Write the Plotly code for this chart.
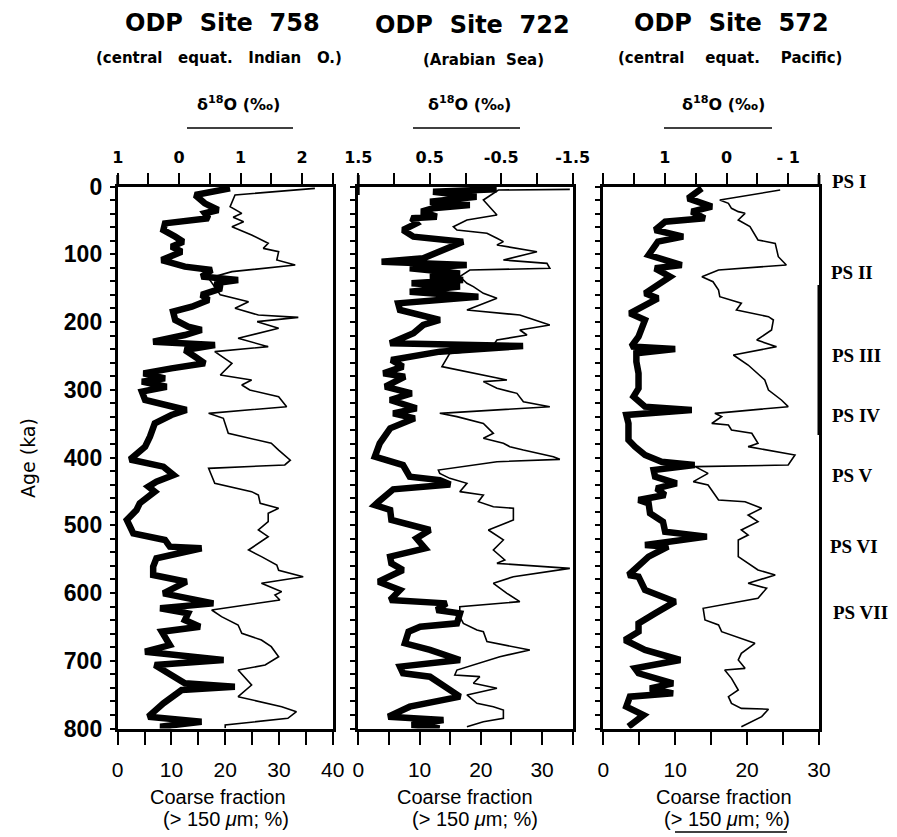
import plotly.graph_objects as go

# The page adds an 8 px body margin, so the figure is 8 px smaller than the window
OFF = 8
W, H = 897 - OFF, 837 - OFF

# ---------------- ODP Site 758 ----------------
age758_cf = [2.7, 12.5, 24.8, 34.7, 39.6, 47, 54.4, 64.2, 74, 81.4, 88.8, 96.2, 108.5, 118.3, 123.2, 133, 138, 143,
             150.3, 160, 167.5, 177.4, 184.7, 197, 206.9, 211.8, 219.2, 229, 234, 241.3, 251.2, 261, 268.4, 275.8,
             283.2, 288, 295.5, 302.8, 315.1, 325, 329.9, 337.3, 349.6, 369.3, 384, 403, 413.5, 425.8, 435.6, 443,
             450.4, 467.6, 477.5, 492.2, 511.9, 521.7, 531.6, 534, 548.8, 561.1, 573.4, 583.3, 600.5, 615.3, 622.6,
             630, 639.9, 649.7, 657.1, 676.8, 686.6, 698.9, 706.3, 733.3, 738.3, 743.2, 762.9, 782.5, 789.9, 797.3,
             799.8]
cf758 = [20.9, 14.4, 16.2, 18.7, 16.2, 16.9, 8.8, 8.5, 10.7, 12.2, 10, 11.9, 8.2, 12.5, 17.5, 15.6, 22.4, 18.1,
         19.3, 15.6, 16.9, 13.8, 10.3, 10.7, 13.1, 15.6, 12.5, 6.6, 18.1, 12.5, 14.4, 16.2, 10, 4.8,
         8.8, 4.5, 9.1, 4.5, 5.1, 10, 12.8, 10, 6.9, 6, 5.1, 2.3, 8.5, 10.4, 7.2, 5.7,
         6.9, 4.1, 3.5, 1.7, 2.9, 8.8, 9.7, 15.6, 7.2, 6.6, 6.6, 12.8, 8.5, 17.8, 7.9,
         13.1, 12.5, 15.3, 8.2, 9.7, 5.1, 19.7, 6.9, 12.5, 21.8, 11.9, 8.5, 5.7, 15.6, 7.9,
         10]
age758_o = [2.7, 12.5, 29.8, 39.6, 45.5, 51.9, 59.3, 71.6, 83.9, 91.3, 96.2, 108.5, 115.9, 125.7, 135.5, 160, 170,
            179.8, 189.7, 193.1, 199.5, 209.3, 224.1, 236.4, 243.8, 261, 278.2, 285.6, 293, 300.4, 310.2, 325,
            334.8, 342.2, 364.3, 379, 389, 404, 411, 416, 438.1, 450.4, 455.4, 467.6, 475, 482.4, 494.7, 507,
            516.8, 536.5, 546.3, 558.6, 566.5, 575.9, 585.7, 598, 602.9, 610.3, 625.1, 634.9, 647.2, 659.5, 669.4,
            679.2, 694, 706.3, 713.7, 735.8, 753, 767.8, 775.2, 785, 794.8, 799.8]
d18o758 = [2.21, 0.91, 0.83, 1.02, 0.88, 1.05, 0.86, 1.18, 1.45, 1.37, 1.62, 1.59, 1.89, 0.86, 0.48, 0.67, 1.13,
           0.91, 1.29, 1.94, 1.27, 1.62, 0.96, 1.45, 0.58, 0.86, 0.67, 1.18, 1.02, 1.15, 1.62, 1.75,
           0.48, 0.72, 0.8, 1.5, 1.62, 1.81, 1.72, 0.48, 0.58, 1.18, 1.29, 1.32, 1.62, 1.45, 1.45, 1.29,
           1.45, 1.13, 1.34, 1.59, 1.62, 2.02, 1.34, 1.67, 1.56, 1.64, 0.53, 0.69, 0.96, 1.02, 1.34,
           1.5, 1.62, 1.4, 0.96, 1.18, 0.96, 1.67, 1.91, 1.77, 0.75, 0.75]

# ---------------- ODP Site 722 ----------------
age722_cf = [4.2, 7.6, 15, 22.4, 27.3, 32.2, 37.1, 44.5, 47, 54.4, 64.2, 74, 81.4, 106, 110.9, 115.9, 120.8, 128.2,
             133.1, 138, 142.9, 147.8, 155.2, 162.6, 172.4, 182.3, 197, 204.4, 216.7, 231.5, 235.4, 243.8, 256.1,
             265.9, 275.8, 280.7, 295.5, 305.3, 315.1, 327.4, 334.8, 342.2, 356.9, 379.1, 398.8, 411.1, 428.3,
             433.3, 440, 447, 465.2, 470.2, 477.5, 492.2, 507, 519.3, 534, 546.3, 556.2, 566.1, 583.3, 595.6,
             610.3, 615.3, 625.1, 630, 644.8, 649.7, 657.1, 674.3, 684.1, 698.9, 708.7, 718.5, 723.5, 733.3, 753,
             767.8, 782.5, 787.4, 794.8, 799.8]
cf722 = [22.6, 12.2, 19.3, 11.7, 18.2, 12.2, 10.3, 12.8, 8.7, 9.5, 7.3, 9, 17.1, 10.6, 3.8, 17.7, 8.4, 16.6,
         11.7, 17.1, 8.7, 16.6, 8.4, 19.6, 6.5, 6.8, 13.3, 10.6, 9, 5.2, 26.9, 13.3, 5.4,
         7.3, 4.1, 7.6, 4.4, 8.7, 5.2, 9.5, 5.7, 9.2, 5.2, 3.5, 2.7, 7.3, 8.4,
         13.3, 15, 5.7, 3.3, 2.7, 5.2, 5.4, 11.7, 9.5, 10.9, 5.2, 5.4, 7.3, 3.3, 6.8,
         5.2, 14.4, 12.8, 16.6, 16.1, 10.1, 8.2, 7.6, 11.7, 16.6, 6.8, 7.3, 11.7, 13.3, 16.6,
         8.4, 4.9, 13.9, 8.7, 13.3]
age722_o = [4.2, 5.2, 19.9, 42.1, 49.4, 59.3, 64.2, 69.1, 76.5, 81.4, 86.3, 96.2, 108.5, 113.4, 120.8, 123.2, 133.1,
            142.9, 147.8, 157.7, 165.1, 182.3, 189.7, 204.4, 211.8, 219.2, 226.6, 233.9, 243.8, 246.3, 265.9,
            285.6, 288, 297.9, 305.3, 317.6, 325, 334.8, 339.7, 349.6, 364.3, 371.7, 379.1, 384, 389, 398.8,
            402.7, 406.2, 418.5, 423.4, 430.8, 438.1, 450.4, 455.4, 465.2, 472.6, 475, 492.2, 507, 521.7, 536.5,
            551.3, 556.2, 563.6, 575.9, 585.7, 600.5, 612.8, 620.2, 634.9, 644.8, 654.6, 657.1, 671.8, 684.1,
            694, 713.7, 721, 723.5, 733.3, 740.7, 750.5, 762.9, 767.8, 772.7, 785, 789.9, 797.3]
d18o722 = [-1.46, -0.46, -0.25, -0.44, -0.02, 0.17, 0.12, -0.3, -0.44, -0.53, -0.44, -1.0, -0.53, -1.14, -1.18,
           -0.06, 0.08, -0.02, -0.11, -0.25, -0.44, -0.02, -0.76, -1.18, -0.76, -0.86, -0.44, -0.39, -0.02,
           0.22, 0.33, -0.58, -0.25, -0.44, -0.72, -0.81, -1.18, 0.36, 0.12, -0.25, -0.39, -0.25, -0.53,
           -0.62, -0.81, -1.23, -1.32, -0.44, 0.38, 0.36, 0.22, -0.02, 0.08, -0.25, -0.18, -0.39, -0.67,
           -0.67, -0.32, -0.53, -0.39, -0.55, -0.44, -1.46, -0.67, -0.39, -0.58, -0.76, 0.08, 0.08, 0.03,
           -0.16, -0.25, -0.3, -0.9, -0.48, 0.12, 0.15, -0.2, -0.11, -0.44, -0.02, -0.16, -0.39, -0.53,
           -0.53, -0.25, -0.02]

# ---------------- ODP Site 572 ----------------
age572_cf = [2.7, 17.5, 29.8, 37.1, 47, 51.9, 64.2, 74, 81.4, 101.1, 115.9, 120.8, 133.1, 157.7, 165.1, 187.2, 197,
             221.6, 236, 240, 246, 258.6, 275.8, 297.9, 310.2, 325, 329.9, 337.3, 349.6, 374.2, 384, 396.3, 406.2,
             411.1, 418.5, 428.3, 438.1, 445.6, 455.4, 462.7, 467.6, 482.4, 494.7, 509.5, 516.8, 529.2, 531.6,
             546.3, 573.4, 575.9, 595.6, 612.8, 630, 644.8, 657.1, 669.4, 684.1, 698.9, 711.2, 718.5, 733.3,
             740.7, 748.1, 753, 767.8, 780.1, 797.3]
cf572 = [13.7, 11.8, 15.1, 12.3, 14.1, 8.6, 7.2, 11.1, 7.6, 6.3, 10.9, 7.2, 9.3, 5.8, 7.6, 3.7, 5.8,
         4.9, 3.9, 10, 4.6, 4.6, 4.9, 4.9, 4.2, 5.8, 12.3, 3.2, 3.5, 3.5, 4.4, 5.8, 8.1,
         12.7, 7, 7.2, 10.2, 7.4, 8.6, 4.9, 6.3, 6.5, 8.3, 8.6, 14.4, 5.8, 9,
         6.3, 3.5, 4.9, 5.8, 10, 7.2, 4.9, 4.9, 3, 5.8, 10.7, 4.4, 4.9, 9.7,
         6.5, 9.7, 3.7, 3.2, 5.6, 3.5]
age572_o = [5.2, 19.9, 24.8, 32.2, 37.1, 39.6, 49.4, 59.3, 79, 83.9, 103.6, 115.9, 123.2, 133.1, 140.5, 152.8,
            162.6, 172.4, 182.3, 192.1, 197, 211.8, 226.6, 236.4, 248.7, 263.5, 285.6, 300.4, 315.1, 325,
            334.8, 339.7, 344.6, 349.6, 352, 359.4, 364.3, 379.1, 384, 396.3, 411.1, 413.5, 423.4, 435.6,
            440.6, 448, 462.7, 465.2, 475, 484.9, 494.7, 507, 514.4, 521.7, 546.3, 566.1, 573.4, 585.7, 593,
            607.8, 622.6, 639.9, 647.2, 657.1, 666.9, 674.3, 689.1, 698.9, 711.2, 713.7, 726, 743.2, 753,
            762.9, 770.3, 771.5, 782.5, 797.3]
d18o572 = [-0.87, 0.11, -0.03, -0.08, -0.19, -0.3, -0.19, -0.38, -0.51, -0.79, -0.84, -0.97, 0.13, 0.4, 0.22,
           0.13, 0.11, -0.24, -0.16, -0.68, -0.76, -0.73, -0.49, -0.81, -0.11, -0.35, -0.62, -0.68, -0.89,
           -1.0, 0.19, 0.08, 0.16, 0.24, -0.03, -0.08, -0.41, -0.51, -0.35, -1.11, -1.0, 0.51, 0.3, 0.54,
           0.3, 0.24, 0.13, -0.3, -0.57, -0.35, -0.51, -0.24, -0.35, -0.19, -0.19, -0.51, -0.79, -0.35,
           -0.65, -0.51, 0.38, 0.35, 0.13, 0.08, -0.24, -0.46, -0.24, -0.19, -0.3, 0.03, -0.08, -0.19,
           -0.03, -0.08, -0.24, -0.68, -0.57, -0.24]

# ---------------- axis tick labels ----------------
age_major = [0, 100, 200, 300, 400, 500, 600, 700, 800]
age_labels = ["0", "100", "200", "300", "400", "500", "600", "700", "800"]
age_minor = [v for v in range(0, 801, 20) if v % 100 != 0]

cf_major = [[0, 10, 20, 30, 40], [0, 10, 20, 30], [0, 10, 20, 30]]
cf_labels = [["0", "10", "20", "30", "40"], ["0", "10", "20", "30"], ["0", "10", "20", "30"]]
cf_minor = [[5, 15, 25, 35], [5, 15, 25, 35], [5, 15, 25]]
cf_range = [[0, 40], [0, 35], [0, 30]]

o_major = [[-1, 0, 1, 2], [1.5, 0.5, -0.5, -1.5], [1, 0, -1]]
o_labels = [["1", "0", "1", "2"], ["1.5", "0.5", "-0.5", "-1.5"], ["1", "0", "- 1"]]
o_minor = [[-0.5, 0.5, 1.5, 2.5], [1.0, 0, -1.0], [2, 1.5, 0.5, -0.5, -1.5]]
o_range = [[-1, 2.5], [1.5, -1.5], [2, -1.5]]

titles = ["ODP\u00a0 Site\u00a0 758", "ODP\u00a0 Site\u00a0 722", "ODP\u00a0 Site\u00a0 572"]
subtitles = ["(central\u00a0\u00a0 equat.\u00a0\u00a0 Indian\u00a0\u00a0 O.)",
             "(Arabian\u00a0 Sea)",
             "(central\u00a0\u00a0\u00a0 equat.\u00a0\u00a0\u00a0 Pacific)"]
ps_labels = ["PS I", "PS II", "PS III", "PS IV", "PS V", "PS VI", "PS VII"]

# ---------------- geometry (window pixels) ----------------
px_left = [117.7, 358.3, 603.3]
px_right = [332.7, 572.7, 819.0]
y_top_px, y_bot_px = 186.5, 728.5


def fx(px):
    return (px - OFF) / W


def fy(py):
    return 1 - (py - OFF) / H


ydom = [fy(y_bot_px), fy(y_top_px)]

fig = go.Figure()

series = [(age758_cf, cf758, age758_o, d18o758),
          (age722_cf, cf722, age722_o, d18o722),
          (age572_cf, cf572, age572_o, d18o572)]

narrow = "Liberation Sans Narrow, Liberation Sans, Arial"
bold = "DejaVu Sans, Liberation Sans"

layout = dict(width=W, height=H, margin=dict(l=0, r=0, t=0, b=0, pad=0, autoexpand=False), autosize=False,
              paper_bgcolor="white", plot_bgcolor="white", showlegend=False,
              font=dict(family="Liberation Sans", color="black"))

for i in range(3):
    xb = 2 * i + 1
    xt = 2 * i + 2
    yi = i + 1
    xb_name = "x" if xb == 1 else f"x{xb}"
    xt_name = f"x{xt}"
    y_name = "y" if yi == 1 else f"y{yi}"
    a_cf, v_cf, a_o, v_o = series[i]
    fig.add_trace(go.Scatter(x=v_o, y=a_o, xaxis=xt_name, yaxis=y_name, mode="lines",
                             line=dict(color="black", width=1.6), hoverinfo="skip"))
    fig.add_trace(go.Scatter(x=v_cf, y=a_cf, xaxis=xb_name, yaxis=y_name, mode="lines",
                             line=dict(color="black", width=6.5), hoverinfo="skip"))
    dom = [fx(px_left[i]), fx(px_right[i])]
    layout["xaxis" if xb == 1 else f"xaxis{xb}"] = dict(
        domain=dom, range=cf_range[i], anchor=y_name, side="bottom", automargin=False,
        tickmode="array", tickvals=cf_major[i], ticktext=cf_labels[i],
        ticks="outside", ticklen=14, tickwidth=2.2, tickcolor="black",
        minor=dict(tickmode="array", tickvals=cf_minor[i], ticks="outside", ticklen=14, tickwidth=2.2,
                   tickcolor="black", showgrid=False),
        showline=True, linewidth=2.8, linecolor="black", mirror=True,
        showgrid=False, zeroline=False, ticklabelstandoff=6,
        tickfont=dict(family=narrow, size=21, color="black"))
    layout[f"xaxis{xt}"] = dict(
        range=o_range[i], overlaying=xb_name, anchor=y_name, side="top", automargin=False,
        tickmode="array", tickvals=o_major[i], ticktext=o_labels[i],
        ticks="outside", ticklen=11, tickwidth=2.2, tickcolor="black",
        minor=dict(tickmode="array", tickvals=o_minor[i], ticks="outside", ticklen=11, tickwidth=2.2,
                   tickcolor="black", showgrid=False),
        showline=True, linewidth=2.8, linecolor="black",
        showgrid=False, zeroline=False, ticklabelstandoff=3,
        tickfont=dict(family="DejaVu Sans", size=16, color="black", weight="bold"))
    layout["yaxis" if yi == 1 else f"yaxis{yi}"] = dict(
        domain=ydom, range=[800, 0], anchor=xb_name, automargin=False,
        tickmode="array", tickvals=age_major, ticktext=age_labels,
        ticks="outside", ticklen=5, tickwidth=2.2, tickcolor="black",
        minor=dict(tickmode="array", tickvals=age_minor, ticks="outside", ticklen=5, tickwidth=2.2,
                   tickcolor="black", showgrid=False),
        showline=True, linewidth=2.8, linecolor="black", mirror=True,
        showgrid=False, zeroline=False, showticklabels=(i == 0), ticklabelstandoff=3,
        tickfont=dict(family=narrow, size=23, color="black", weight="bold"))

fig.update_layout(**layout)

annotations = []
shapes = []
title_x = [222, 472, 731]
title_y = [23, 25, 23]
sub_x = [219, 483, 730]
sub_y = [58, 60, 58]
d_x = [238, 470, 723]
line_x = [(187, 293), (413, 520), (664, 772)]
cf_lab_x = [218, 465, 724]
cf_lab2_x = [226, 475, 727]

for i in range(3):
    annotations.append(dict(text="<b>" + titles[i] + "</b>", x=fx(title_x[i]), y=fy(title_y[i]),
                            xref="paper", yref="paper", showarrow=False, xanchor="center", yanchor="middle",
                            font=dict(family=bold, size=24, color="black")))
    annotations.append(dict(text="<b>" + subtitles[i] + "</b>", x=fx(sub_x[i]), y=fy(sub_y[i]),
                            xref="paper", yref="paper", showarrow=False, xanchor="center", yanchor="middle",
                            font=dict(family=bold, size=15, color="black")))
    annotations.append(dict(text="<b>δ<sup>18</sup>O (‰)</b>", x=fx(d_x[i]), y=fy(103),
                            xref="paper", yref="paper", showarrow=False, xanchor="center", yanchor="middle",
                            font=dict(family="DejaVu Sans", size=16, color="black")))
    shapes.append(dict(type="line", xref="paper", yref="paper", x0=fx(line_x[i][0]), x1=fx(line_x[i][1]),
                       y0=fy(128), y1=fy(128), line=dict(color="black", width=1.5)))
    annotations.append(dict(text="Coarse fraction", x=fx(cf_lab_x[i]), y=fy(797),
                            xref="paper", yref="paper", showarrow=False, xanchor="center", yanchor="middle",
                            font=dict(family=narrow, size=20, color="black")))
    annotations.append(dict(text="(> 150 <i>μ</i>m; %)", x=fx(cf_lab2_x[i]), y=fy(819),
                            xref="paper", yref="paper", showarrow=False, xanchor="center", yanchor="middle",
                            font=dict(family=narrow, size=20, color="black")))

shapes.append(dict(type="line", xref="paper", yref="paper", x0=fx(675), x1=fx(787), y0=fy(832), y1=fy(832),
                   line=dict(color="black", width=1.5)))
# axis extensions above the top axes
shapes.append(dict(type="line", xref="paper", yref="paper", x0=fx(117.7), x1=fx(117.7), y0=fy(175), y1=fy(187),
                   line=dict(color="black", width=2.8)))
shapes.append(dict(type="line", xref="paper", yref="paper", x0=fx(358.3), x1=fx(358.3), y0=fy(175), y1=fy(195),
                   line=dict(color="black", width=2.8)))
shapes.append(dict(type="line", xref="paper", yref="paper", x0=fx(819), x1=fx(819), y0=fy(175), y1=fy(187),
                   line=dict(color="black", width=2.8)))
shapes.append(dict(type="line", xref="paper", yref="paper", x0=fx(819.5), x1=fx(819.5), y0=fy(285), y1=fy(435),
                   line=dict(color="black", width=4)))

ps_y = [181, 272, 355, 415, 475, 546, 612]
ps_x = [830, 829, 830, 830, 830, 828, 831]
for lab, yy, xx in zip(ps_labels, ps_y, ps_x):
    annotations.append(dict(text="<b>" + lab + "</b>", x=fx(xx), y=fy(yy), xref="paper", yref="paper",
                            showarrow=False, xanchor="left", yanchor="middle",
                            font=dict(family="Liberation Serif, Times New Roman", size=19, color="black")))

annotations.append(dict(text="Age (ka)", x=fx(28), y=fy(458), xref="paper", yref="paper", showarrow=False,
                        textangle=-90, xanchor="center", yanchor="middle",
                        font=dict(family="DejaVu Sans", size=19, color="black")))

fig.update_layout(annotations=annotations, shapes=shapes)
fig.write_html("out.html")
